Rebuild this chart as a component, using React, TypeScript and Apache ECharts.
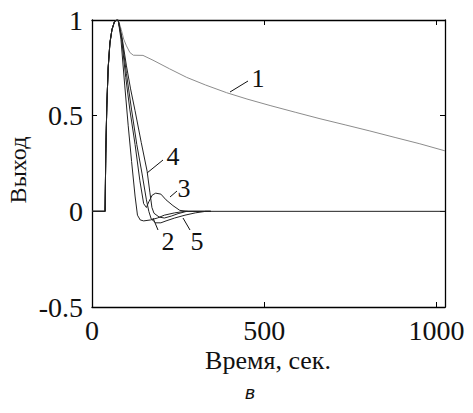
import React, { useEffect, useRef } from "react";
import * as echarts from "echarts";

// Time (s) and output values
const curve1: [number, number][] = [
  [0, 0], [38, 0], [40, 0.3], [43, 0.55], [47, 0.75], [52, 0.88], [58, 0.95], [65, 0.99], [72, 1],
  [78, 0.99], [85, 0.95], [92, 0.9], [100, 0.865], [110, 0.83], [120, 0.816], [148, 0.815],
  [177, 0.79], [225, 0.745], [275, 0.7], [330, 0.66], [391, 0.62], [450, 0.587], [517, 0.553],
  [590, 0.518], [662, 0.484], [735, 0.452], [807, 0.42], [880, 0.386], [952, 0.353], [1025, 0.316],
];
const rise: [number, number][] = [
  [0, 0], [38, 0], [40, 0.3], [43, 0.55], [47, 0.75], [52, 0.88], [58, 0.95], [65, 0.99], [72, 1], [76, 1],
];
const curve2: [number, number][] = [
  ...rise, [84, 0.9], [95, 0.66], [105, 0.45], [115, 0.26], [125, 0.08], [132, -0.02], [140, -0.045],
  [150, -0.05], [170, -0.045], [190, -0.035], [210, -0.02], [240, -0.008], [270, 0], [345, 0], [1025, 0],
];
const curve3: [number, number][] = [
  ...rise, [86, 0.9], [98, 0.7], [110, 0.53], [125, 0.35], [139, 0.16], [150, 0.04], [158, 0.02],
  [165, 0.05], [175, 0.085], [185, 0.095], [200, 0.09], [215, 0.06], [235, 0.03], [255, 0.005], [280, 0], [345, 0],
];
const curve4: [number, number][] = [
  ...rise, [88, 0.9], [100, 0.76], [112, 0.64], [125, 0.526], [143, 0.36], [160, 0.21], [168, 0.1],
  [174, 0.02], [180, -0.01], [195, -0.03], [210, -0.035], [230, -0.025], [250, -0.012], [275, 0], [345, 0],
];
const curve5: [number, number][] = [
  ...rise, [87, 0.9], [100, 0.72], [115, 0.53], [130, 0.35], [145, 0.2], [158, 0.06], [165, 0],
  [172, -0.04], [185, -0.06], [200, -0.06], [215, -0.05], [240, -0.035], [270, -0.02], [300, -0.008], [330, 0], [345, 0],
];
const xTicks = [0, 500, 1000];
const yTicks = [-0.5, 0, 0.5, 1];
const curveLabels = ["1", "2", "3", "4", "5"];

const serif = "'Liberation Serif', 'Times New Roman', serif";

export default function App() {
  const ref = useRef<HTMLDivElement>(null);
  useEffect(() => {
    if (!ref.current) return;
    const chart = echarts.init(ref.current, undefined, { renderer: "svg" });
    const axisLine = { show: true, onZero: false, lineStyle: { color: "#000", width: 1.3 } };
    const tick = { show: true, inside: true, length: 5, lineStyle: { color: "#000", width: 1 } };
    const line = (data: [number, number][], color: string) => ({
      type: "line",
      data,
      showSymbol: false,
      symbol: "none",
      silent: true,
      lineStyle: { color, width: 1 },
    });
    const label = (text: string, x: number, y: number) => ({
      type: "text",
      x,
      y,
      style: { text, font: `26px ${serif}`, fill: "#111", align: "center", verticalAlign: "middle" },
    });
    const leader = (x1: number, y1: number, x2: number, y2: number) => ({
      type: "line",
      shape: { x1, y1, x2, y2 },
      style: { stroke: "#111", lineWidth: 1 },
    });
    chart.setOption({
      animation: false,
      grid: { left: 92, right: 28, top: 20, bottom: 106 },
      xAxis: [
        {
          type: "value", min: 0, max: 1025, interval: 500, position: "bottom",
          axisLine, axisTick: tick, splitLine: { show: false },
          axisLabel: {
            margin: 9, color: "#111", fontFamily: serif, fontSize: 28,
            formatter: (v: number) => (xTicks.includes(v) ? String(v) : ""),
          },
        },
        {
          type: "value", min: 0, max: 1025, interval: 500, position: "top",
          axisLine, axisTick: tick, splitLine: { show: false }, axisLabel: { show: false },
        },
      ],
      yAxis: [
        {
          type: "value", min: -0.5, max: 1, interval: 0.5, position: "left",
          axisLine, axisTick: tick, splitLine: { show: false },
          axisLabel: {
            margin: 9, color: "#111", fontFamily: serif, fontSize: 28,
            formatter: (v: number) => (yTicks.includes(v) ? String(v) : ""),
          },
        },
        {
          type: "value", min: -0.5, max: 1, interval: 0.5, position: "right",
          axisLine, axisTick: tick, splitLine: { show: false }, axisLabel: { show: false },
        },
      ],
      series: [
        line(curve1, "#8c8c8c"),
        line(curve2, "#222"),
        line(curve3, "#222"),
        line(curve4, "#222"),
        line(curve5, "#222"),
      ],
      graphic: [
        leader(230, 92, 248, 81), label(curveLabels[0], 258, 78),
        leader(153, 218, 158, 230), label(curveLabels[1], 168, 241),
        leader(170, 197, 177, 191), label(curveLabels[2], 184, 188),
        leader(147, 173, 163, 160), label(curveLabels[3], 173, 156),
        leader(183, 218, 190, 230), label(curveLabels[4], 197, 241),
        {
          type: "text", x: 268, y: 360,
          style: { text: "Время, сек.", font: `26px ${serif}`, fill: "#111", align: "center", verticalAlign: "middle" },
        },
        {
          type: "text", x: 18, y: 170, rotation: Math.PI / 2,
          style: { text: "Выход", font: `24px ${serif}`, fill: "#111", align: "center", verticalAlign: "middle" },
        },
        {
          type: "text", x: 250, y: 392,
          style: { text: "в", font: "italic 18px 'DejaVu Sans', sans-serif", fill: "#111", align: "center", verticalAlign: "middle" },
        },
      ],
    });
    return () => chart.dispose();
  }, []);
  return <div ref={ref} style={{ width: 473, height: 413, position: "absolute", left: 0, top: 0 }} />;
}
